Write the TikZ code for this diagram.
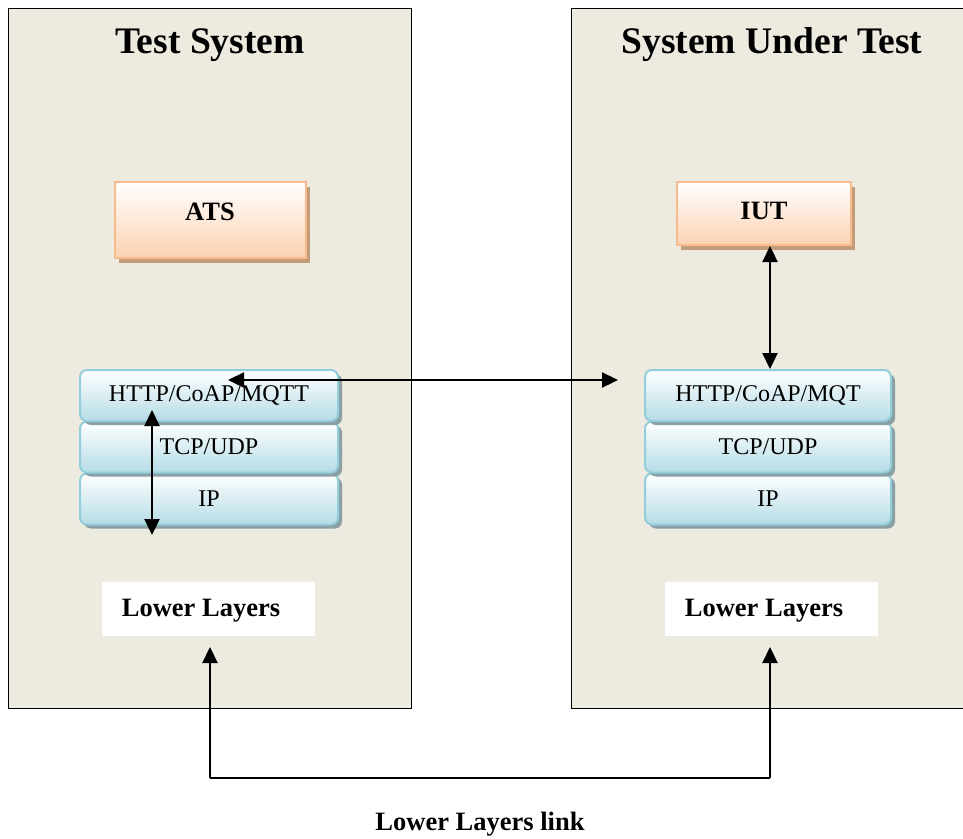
\documentclass[tikz,border=0pt]{standalone}
\usepackage{fontspec}
\setmainfont{Liberation Serif}
\usetikzlibrary{shadows,arrows.meta}
\definecolor{panelfill}{HTML}{EDEAE0}
\definecolor{peachtop}{HTML}{FFFFFF}
\definecolor{peachbot}{HTML}{FBD2B2}
\definecolor{peachedge}{HTML}{F9BB8C}
\definecolor{peachshadow}{HTML}{C39C7A}
\definecolor{bluebot}{HTML}{B5DCE6}
\definecolor{blueedge}{HTML}{93CEDB}
\definecolor{blueshadow}{HTML}{8AA0A5}
\newcommand{\dn}[1]{\raisebox{-3pt}{#1}}
\tikzset{
  panel/.style={draw=black, line width=1.3pt, fill=panelfill, anchor=north west, inner sep=0pt},
  title/.style={font=\fontsize{37.5}{42}\selectfont\bfseries},
  boldlbl/.style={font=\fontsize{26.5}{31}\selectfont\bfseries},
  peachbox/.style={draw=peachedge, line width=2pt, top color=peachtop, bottom color=peachbot,
    drop shadow={shadow xshift=4pt, shadow yshift=-5pt, fill=peachshadow, opacity=1},
    inner sep=0pt},
  layer/.style={draw=blueedge, line width=2pt, top color=white, bottom color=bluebot,
    rounded corners=7pt, minimum height=51pt, inner sep=0pt,
    drop shadow={shadow xshift=4pt, shadow yshift=-4pt, fill=blueshadow, opacity=1},
    font=\fontsize{24}{29}\selectfont},
  lowbox/.style={fill=white, minimum width=213pt, minimum height=54pt, inner sep=0pt},
  conn/.style={line width=2.3pt, {Triangle[length=16pt,width=15pt]}-{Triangle[length=16pt,width=15pt]}},
  link/.style={line width=2.3pt},
  tip/.style={line width=2.3pt, -{Triangle[length=16pt,width=15pt]}}
}
\begin{document}
\begin{tikzpicture}[x=1pt,y=-1pt]
\useasboundingbox (0,0) rectangle (963,838);
% panels
\node[panel, minimum width=403pt, minimum height=700pt] (panelL) at (8,8) {};
\node[panel, minimum width=420pt, minimum height=700pt] (panelR) at (571,8) {};
\node[title] (tL) at (210,45) {Test System};
\node[title] (tR) at (772,45) {System Under Test};
% application boxes
\node[peachbox, minimum width=191pt, minimum height=76pt] (ats) at (210.5,220) {};
\node[boldlbl] (atsl) at (210,212) {ATS};
\node[peachbox, minimum width=174pt, minimum height=63pt] (iut) at (764,213.5) {};
\node[boldlbl] (iutl) at (764,211) {IUT};
% left stack
\node[layer, minimum width=258pt] (ipL) at (209,499) {\dn{IP}};
\node[layer, minimum width=258pt] (tcpL) at (209,447) {\dn{TCP/UDP}};
\node[layer, minimum width=258pt] (httpL) at (209,395.5) {\dn{HTTP/CoAP/MQTT}};
% right stack
\node[layer, minimum width=246pt] (ipR) at (768,499) {\dn{IP}};
\node[layer, minimum width=246pt] (tcpR) at (768,447) {\dn{TCP/UDP}};
\node[layer, minimum width=246pt] (httpR) at (768,395.5) {\dn{HTTP/CoAP/MQT}};
% lower layers
\node[lowbox] (lowL) at (208.5,609) {};
\node[boldlbl] (lowLt) at (201,611) {Lower Layers};
\node[lowbox] (lowR) at (771.5,609) {};
\node[boldlbl] (lowRt) at (764,611) {Lower Layers};
\node[boldlbl] (linkl) at (480,824) {Lower Layers link};
% connectors
\coordinate (hL) at (228,380);
\coordinate (hR) at (618,380);
\draw[conn] (hL) -- (hR);
\coordinate (vT) at (152,410);
\coordinate (vB) at (152,535);
\draw[conn] (vT) -- (vB);
\draw[conn] (iut.south -| 770,0) -- (httpR.north -| 770,0);
\coordinate (lowLa) at (210,647);
\coordinate (lowRa) at (770,647);
\coordinate (bL) at (210,778);
\coordinate (bR) at (770,778);
\draw[link] (bL) -- (bR);
\draw[tip] (bL) -- (lowLa);
\draw[tip] (bR) -- (lowRa);
\end{tikzpicture}
\end{document}
